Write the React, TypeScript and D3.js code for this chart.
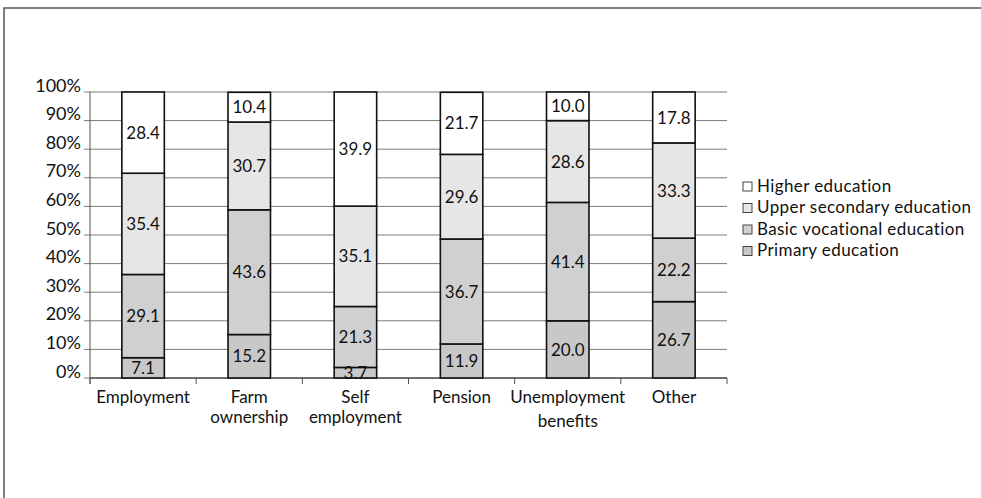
import React from "react";
import * as d3 from "d3";

const categories: string[][] = [
  ["Employment"],
  ["Farm", "ownership"],
  ["Self", "employment"],
  ["Pension"],
  ["Unemployment", "benefits"],
  ["Other"],
];
const seriesNames = [
  "Primary education",
  "Basic vocational education",
  "Upper secondary education",
  "Higher education",
];
const primary = [7.1, 15.2, 3.7, 11.9, 20.0, 26.7];
const basicVocational = [29.1, 43.6, 21.3, 36.7, 41.4, 22.2];
const upperSecondary = [35.4, 30.7, 35.1, 29.6, 28.6, 33.3];
const higher = [28.4, 10.4, 39.9, 21.7, 10.0, 17.8];
const yTicks = [0, 10, 20, 30, 40, 50, 60, 70, 80, 90, 100];
const colors = ["#c8c8c8", "#d0d0d0", "#e6e6e6", "#ffffff"];

const FONT = "Lato, 'DejaVu Sans', sans-serif";

export default function App() {
  const W = 981, H = 498;
  const left = 90, right = 727, top = 92, bottom = 378;
  const x = d3.scaleBand<number>().domain(d3.range(categories.length)).range([left, right]).paddingInner(0).paddingOuter(0);
  const y = d3.scaleLinear().domain([0, 100]).range([bottom, top]);
  const barW = x.bandwidth() * 0.4;
  const series = [primary, basicVocational, upperSecondary, higher];
  const rows = categories.map((_, i) => {
    const o: any = { i };
    series.forEach((s, k) => (o["s" + k] = s[i]));
    return o;
  });
  const stack = d3.stack<any>().keys(series.map((_, k) => "s" + k))(rows);
  const boundaries = d3.range(categories.length + 1).map((i) => left + i * x.step());

  return (
    <svg width={W} height={H} style={{ position: "absolute", left: 0, top: 0, background: "#fff" }} fontFamily={FONT}>
      <rect x={4} y={8} width={1200} height={800} fill="#fff" stroke="#555" strokeWidth={1.5} />
      {yTicks.map((t) => (
        <g key={t}>
          <line x1={left - 6} x2={right} y1={y(t)} y2={y(t)} stroke="#7a7a7a" strokeWidth={1} />
          <text x={81} y={y(t)} dy="-0.02em" textAnchor="end" fontSize={18} fill="#111">
            {t}%
          </text>
        </g>
      ))}
      <line x1={left} x2={left} y1={top} y2={bottom + 6} stroke="#555" strokeWidth={1} />
      <line x1={left} x2={right} y1={bottom} y2={bottom} stroke="#555" strokeWidth={1.5} />
      {boundaries.map((bx, i) => (
        <line key={i} x1={bx} x2={bx} y1={bottom} y2={bottom + 6} stroke="#555" strokeWidth={1} />
      ))}
      {stack.map((layer, k) => (
        <g key={k}>
          {layer.map((d, i) => {
            const bx = (x(i) as number) + (x.bandwidth() - barW) / 2;
            const y0 = y(d[0]), y1 = y(d[1]);
            return (
              <rect key={i} x={bx} y={y1} width={barW} height={y0 - y1} fill={colors[k]} stroke="#111" strokeWidth={1.6} />
            );
          })}
        </g>
      ))}
      {stack.map((layer, k) => (
        <g key={"l" + k}>
          {layer.map((d, i) => {
            const cx = (x(i) as number) + x.bandwidth() / 2;
            const cy = (y(d[0]) + y(d[1])) / 2;
            return (
              <text key={i} x={cx} y={cy} dy="0.36em" textAnchor="middle" fontSize={17} fill="#111">
                {series[k][i].toFixed(1)}
              </text>
            );
          })}
        </g>
      ))}
      {categories.map((lines, i) => {
        const cx = (x(i) as number) + x.bandwidth() / 2;
        return (
          <g key={i}>
            {lines.map((l, j) => (
              <text
                key={j}
                x={cx}
                y={403 + (j === 0 ? 0 : lines[0] === "Unemployment" ? 24 : 20)}
                textAnchor="middle"
                fontSize={17}
                fill="#111"
              >
                {l}
              </text>
            ))}
          </g>
        );
      })}
      {[3, 2, 1, 0].map((k, r) => {
        const ly = 186 + r * 21.5;
        return (
          <g key={k}>
            <rect x={743} y={ly - 4} width={9} height={9} fill={colors[k]} stroke="#444" strokeWidth={1} />
            <text x={757} y={ly} dy="0.35em" fontSize={17} letterSpacing={0.4} fill="#111">
              {seriesNames[k]}
            </text>
          </g>
        );
      })}
    </svg>
  );
}
